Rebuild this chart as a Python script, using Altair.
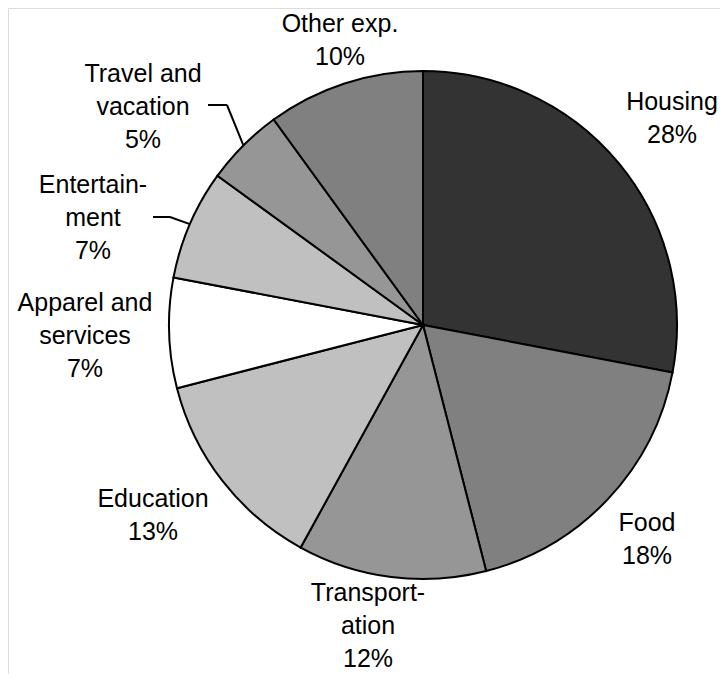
import math
import altair as alt
import pandas as pd

# ---- data ----
categories = ["Housing", "Food", "Transportation", "Education",
              "Apparel and services", "Entertainment", "Travel and vacation", "Other exp."]
values = [28, 18, 12, 13, 7, 7, 5, 10]
label_names = ["Housing", "Food", "Transport-\nation", "Education",
               "Apparel and\nservices", "Entertain-\nment", "Travel and\nvacation", "Other exp."]
colors = ["#333333", "#808080", "#969696", "#c0c0c0",
          "#ffffff", "#c0c0c0", "#969696", "#808080"]

# ---- layout (plot-area pixels) ----
CX, CY, R = 415, 317, 254
label_x = [664, 639, 360, 145, 77, 85, 135, 332]
label_y = [102, 523, 593, 499, 303, 185, 74, 24]
# leader lines: category -> (start x, start y, elbow x, elbow y)
leaders = {
    "Travel and vacation": (200, 97, 219, 97),
    "Entertainment": (145, 209, 162, 209),
}

df = pd.DataFrame({
    "category": categories,
    "value": values,
    "idx": list(range(len(categories))),
    "label": [f"{n}\n{v}%" for n, v in zip(label_names, values)],
    "lx": label_x,
    "ly": label_y,
})

total = sum(values)
cum = 0
edge = {}
for c, v in zip(categories, values):
    mid = (cum + v / 2) / total * 2 * math.pi
    edge[c] = (CX + R * math.sin(mid), CY - R * math.cos(mid))
    cum += v

rows = []
for c, (sx, sy, ex, ey) in leaders.items():
    px, py = edge[c]
    rows.append({"x": sx, "y": sy, "x2": ex, "y2": ey})
    rows.append({"x": ex, "y": ey, "x2": px, "y2": py})
lead_df = pd.DataFrame(rows)

arcs = alt.Chart(df).mark_arc(
    outerRadius=R, stroke="black", strokeWidth=2
).encode(
    theta=alt.Theta("value:Q", stack=True),
    color=alt.Color("category:N", scale=alt.Scale(domain=categories, range=colors), legend=None),
    order=alt.Order("idx:Q"),
    x=alt.value(CX),
    y=alt.value(CY),
)

labels = alt.Chart(df).mark_text(
    font="Liberation Sans", fontSize=25, lineBreak="\n", lineHeight=33,
    align="center", baseline="alphabetic", color="black"
).encode(
    x=alt.X("lx:Q", scale=None, axis=None),
    y=alt.Y("ly:Q", scale=None, axis=None),
    text="label:N",
)

lines = alt.Chart(lead_df).mark_rule(color="black", strokeWidth=2).encode(
    x=alt.X("x:Q", scale=None, axis=None),
    y=alt.Y("y:Q", scale=None, axis=None),
    x2="x2:Q",
    y2="y2:Q",
)

chart = alt.layer(arcs, lines, labels).properties(
    width=712, height=666, autosize="none", padding=0
).configure_view(stroke=None).configure(background="white")

chart.save("out.html", embed_options={"renderer": "svg", "actions": False})
